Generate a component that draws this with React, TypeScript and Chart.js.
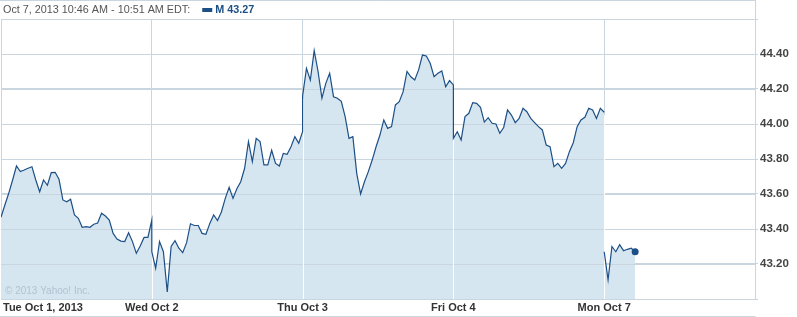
import { useEffect, useRef } from "react";
import { Chart, registerables } from "chart.js";

Chart.register(...registerables);

// ---- data (10-minute samples, 9:30 .. 16:00 per session) ----
const dayLabels = ["Tue Oct 1, 2013", "Wed Oct 2", "Thu Oct 3", "Fri Oct 4", "Mon Oct 7"];

const tue = [43.467, 43.537, 43.604, 43.68, 43.76, 43.728, 43.737, 43.747, 43.756, 43.68,
  43.613, 43.68, 43.65, 43.722, 43.724, 43.684, 43.566, 43.556, 43.57, 43.48,
  43.461, 43.41, 43.413, 43.41, 43.427, 43.434, 43.49, 43.474, 43.451, 43.375,
  43.343, 43.331, 43.328, 43.379, 43.328, 43.261, 43.303, 43.352, 43.352, 43.45];

const wed = [43.27, 43.175, 43.328, 43.27, 43.04, 43.3, 43.333, 43.29, 43.265, 43.322,
  43.43, 43.42, 43.42, 43.375, 43.37, 43.432, 43.48, 43.448, 43.497, 43.575,
  43.638, 43.575, 43.63, 43.67, 43.747, 43.9, 43.785, 43.918, 43.9, 43.766,
  43.766, 43.85, 43.775, 43.76, 43.832, 43.827, 43.87, 43.928, 43.89, 43.956];

const thu = [44.16, 44.318, 44.251, 44.419, 44.3, 44.147, 44.232, 44.29, 44.156, 44.147,
  44.13, 44.042, 43.918, 43.928, 43.718, 43.6, 43.67, 43.728, 43.794, 43.87,
  43.937, 44.023, 43.975, 43.985, 44.109, 44.128, 44.185, 44.3, 44.27, 44.251,
  44.309, 44.394, 44.389, 44.347, 44.27, 44.29, 44.303, 44.213, 44.248, 44.223];

const fri = [43.918, 43.956, 43.909, 44.042, 44.061, 44.122, 44.118, 44.095, 44.011, 44.036,
  44.004, 44.0, 43.947, 43.98, 44.08, 44.051, 44.008, 44.032, 44.09, 44.07,
  44.032, 44.008, 43.985, 43.966, 43.88, 43.87, 43.756, 43.775, 43.747, 43.775,
  43.842, 43.893, 43.985, 44.023, 44.038, 44.09, 44.08, 44.032, 44.09, 44.067];

const mon = [43.27, 43.11, 43.3, 43.27, 43.31, 43.276, 43.284, 43.29, 43.27];

const sessionMinutes = 390;
const stepMinutes = 10;
const yMin = 43.0;
const yMax = 44.6;
const yStep = 0.2;

const GRID = "#c9d6e0";
const LINE = "#1c4f86";
const FILL = "#d6e6f1";
const FONT = "'Liberation Sans', Arial, sans-serif";

function buildPoints() {
  const days = [tue, wed, thu, fri, mon];
  const pts: { x: number; y: number | null }[] = [];
  days.forEach((vals, d) => {
    if (d === 4) pts.push({ x: d * sessionMinutes, y: null }); // weekend gap
    vals.forEach((v, i) => pts.push({ x: d * sessionMinutes + i * stepMinutes, y: v }));
  });
  return pts;
}

export default function App() {
  const ref = useRef<HTMLCanvasElement | null>(null);

  useEffect(() => {
    if (!ref.current) return;
    const points = buildPoints();
    const last = points.length - 1;
    const dayTicks = dayLabels.map((_, i) => i * sessionMinutes);

    const overlay = {
      id: "overlay",
      beforeDraw(chart: any) {
        const c = chart.ctx;
        c.save();
        c.fillStyle = "#fff";
        c.fillRect(0, 0, chart.width, chart.height);
        c.restore();
      },
      afterDatasetDraw(chart: any, args: any) {
        if (args.index !== 1) return;
        const c = chart.ctx;
        const ys = chart.scales.y;
        const xs = chart.scales.x;
        const area = chart.chartArea;
        c.save();
        c.lineWidth = 1;
        c.strokeStyle = GRID;
        for (let v = yMin + yStep; v < yMax - 0.01; v += yStep) {
          const py = Math.round(ys.getPixelForValue(v)) + 0.5;
          c.beginPath();
          c.moveTo(area.left, py);
          c.lineTo(area.right, py);
          c.stroke();
        }
        // white separators inside the filled area at session boundaries
        const meta = chart.getDatasetMeta(1);
        c.strokeStyle = "#ffffff";
        [1, 2, 3, 4].forEach((d) => {
          const px = Math.round(xs.getPixelForValue(d * sessionMinutes)) + 0.5;
          let top = area.bottom;
          meta.data.forEach((el: any, i: number) => {
            const p = points[i];
            if (p.y !== null && Math.abs(p.x - d * sessionMinutes) < 0.01) {
              top = Math.min(top, el.y);
            }
          });
          c.beginPath();
          c.moveTo(px, top + 3);
          c.lineTo(px, area.bottom);
          c.stroke();
        });
        c.restore();
      },
      afterDraw(chart: any) {
        const c = chart.ctx;
        const area = chart.chartArea;
        const xs = chart.scales.x;
        c.save();
        // frame lines
        c.strokeStyle = GRID;
        c.lineWidth = 1;
        c.beginPath();
        c.moveTo(0, 0.5);
        c.lineTo(area.right + 0.5, 0.5);
        c.moveTo(area.right + 0.5, 0);
        c.lineTo(area.right + 0.5, area.top);
        c.moveTo(0, 316.5);
        c.lineTo(area.right + 0.5, 316.5);
        c.stroke();

        // header
        c.textBaseline = "middle";
        c.textAlign = "left";
        c.font = `10.8px ${FONT}`;
        c.fillStyle = "#555";
        const head = "Oct 7, 2013 10:46 AM - 10:51 AM EDT:";
        c.fillText(head, 3, 10.5);
        const w = c.measureText(head).width;
        const sx = 3 + w + 12;
        c.fillStyle = LINE;
        c.fillRect(sx, 8, 10, 4);
        c.font = `bold 10.8px ${FONT}`;
        c.fillText("M " + mon[mon.length - 1].toFixed(2), sx + 13, 10.5);

        // copyright
        c.font = `10px ${FONT}`;
        c.fillStyle = "#b3c2ce";
        c.fillText("\u00a9 2013 Yahoo! Inc.", 5, area.bottom - 8);

        // x labels
        c.font = `bold 11px ${FONT}`;
        c.fillStyle = "#333";
        dayTicks.forEach((v, i) => {
          const px = xs.getPixelForValue(v);
          if (i === 0) {
            c.textAlign = "left";
            c.fillText(dayLabels[i], 3, 308);
          } else {
            c.textAlign = "center";
            c.fillText(dayLabels[i], px, 308);
          }
        });
        c.restore();
      },
    };

    const chart = new Chart(ref.current, {
      type: "line",
      data: {
        datasets: [
          {
            data: points as any,
            borderColor: LINE,
            borderWidth: 1.2,
            fill: false,
            spanGaps: false,
            tension: 0,
            pointRadius: (ctx: any) => (ctx.dataIndex === last ? 3.5 : 0),
            pointBackgroundColor: LINE,
            pointBorderColor: LINE,
            pointBorderWidth: 0,
          },
          {
            data: points as any,
            borderWidth: 0,
            borderColor: "rgba(0,0,0,0)",
            backgroundColor: FILL,
            fill: "start",
            spanGaps: false,
            tension: 0,
            pointRadius: 0,
          },
        ],
      },
      options: {
        animation: false,
        responsive: false,
        devicePixelRatio: 1,
        layout: { autoPadding: false, padding: { top: 19, left: 1, right: 0, bottom: 0 } },
        plugins: { legend: { display: false }, tooltip: { enabled: false } },
        scales: {
          x: {
            type: "linear",
            min: 0,
            max: sessionMinutes * 5,
            afterBuildTicks: (s: any) => {
              s.ticks = dayTicks.map((v) => ({ value: v }));
            },
            afterFit: (s: any) => {
              s.height = 18;
            },
            ticks: { display: false },
            grid: { color: GRID, drawTicks: false, tickLength: 0 },
            border: { color: GRID },
          },
          y: {
            position: "right",
            min: yMin,
            max: yMax,
            afterFit: (s: any) => {
              s.width = 42;
            },
            ticks: {
              stepSize: yStep,
              padding: 2,
              color: "#444",
              font: { family: FONT, size: 11.5, weight: "bold" },
              callback: (v: any, i: number, ticks: any[]) =>
                i === 0 || i === ticks.length - 1 ? "" : Number(v).toFixed(2),
            },
            grid: { color: GRID, tickLength: 3 },
            border: { color: GRID },
          },
        },
      },
      plugins: [overlay],
    } as any);

    return () => chart.destroy();
  }, []);

  return (
    <div style={{ position: "absolute", left: 0, top: 0, width: 797, height: 317 }}>
      <canvas ref={ref} width={797} height={317} />
    </div>
  );
}
